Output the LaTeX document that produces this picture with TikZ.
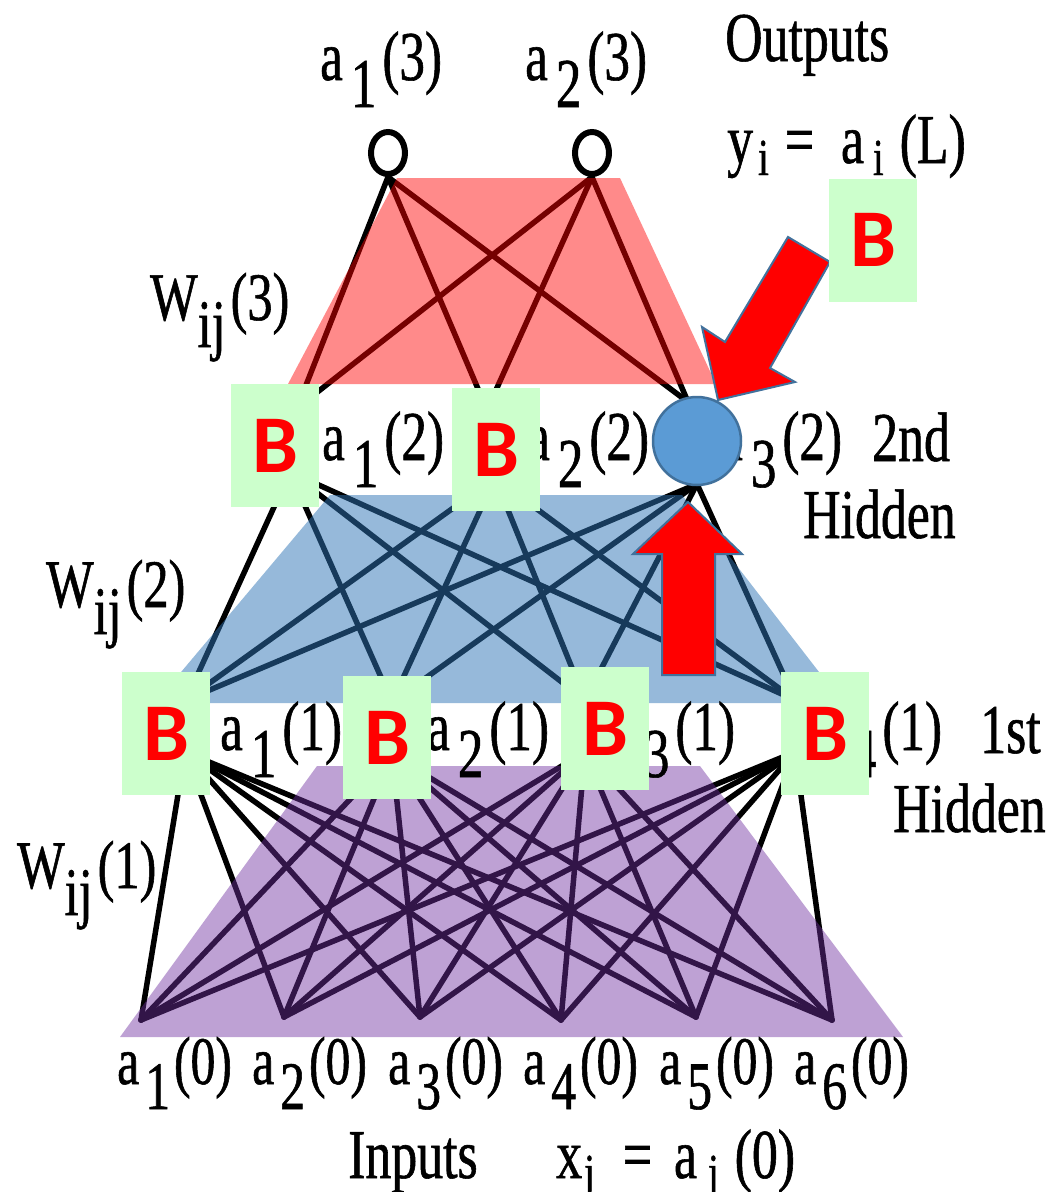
\documentclass[tikz,border=0pt]{standalone}
\usepackage{fontspec}
\newfontfamily\tmsA[FakeStretch=0.73,FakeBold=0.8]{Liberation Serif}
\newfontfamily\tmsB[FakeStretch=0.74,FakeBold=0.8]{Liberation Serif}
\newfontfamily\calb{Carlito}
\usetikzlibrary{shapes.geometric}
\definecolor{bgreen}{HTML}{CCFFCC}
\definecolor{cfill}{HTML}{5B9BD5}
\definecolor{cdraw}{HTML}{41719C}
\definecolor{ovblue}{HTML}{2E75B6}
\definecolor{ovpurple}{HTML}{7030A0}
\newcommand{\nlab}[2]{a\kern8pt\raisebox{-27pt}{#1}\kern6pt(#2)}
\newcommand{\ilab}[1]{a\kern6pt\raisebox{-25pt}{#1}\kern4pt(0)}
\newcommand{\wlab}[1]{W\raisebox{-27pt}{ij}\kern5pt(#1)}
\newcommand{\subsm}[1]{\raisebox{-12pt}{\fontsize{52}{52}\selectfont #1}}
\begin{document}
\begin{tikzpicture}[x=1pt,y=-1pt,
  conn/.style={line width=5.5pt,line cap=round},
  nl/.style={anchor=base west,inner sep=0pt,font=\tmsA\fontsize{70}{76}\selectfont},
  il/.style={anchor=base west,inner sep=0pt,font=\tmsA\fontsize{68}{72}\selectfont},
  tl/.style={anchor=base west,inner sep=0pt,font=\tmsB\fontsize{70}{76}\selectfont},
  wl/.style={anchor=base west,inner sep=0pt,font=\tmsB\fontsize{68}{74}\selectfont},
  bbox/.style={fill=bgreen,minimum width=88pt,minimum height=123pt,inner sep=0pt,text=red,font=\calb\bfseries\fontsize{82}{82}\selectfont},
  outn/.style={draw,ellipse,line width=6pt,minimum width=34pt,minimum height=42pt,inner sep=0pt},
  arr/.style={fill=red,draw=cdraw,line width=2pt,line join=miter}]

\useasboundingbox (0,0) rectangle (1051,1192);
\fill[white] (0,0) rectangle (1051,1192);

% output neurons
\node[outn] (o1) at (388,153) {};
\node[outn] (o2) at (592,153) {};

% hidden / input neuron anchor points
\coordinate (t21) at (297,408);
\coordinate (t22) at (487,410);
\coordinate (t23) at (688,402);
\coordinate (b21) at (290,472);
\coordinate (b22) at (495,478);
\coordinate (b23) at (697,484);
\coordinate (t11) at (186,700);
\coordinate (t12) at (392,702);
\coordinate (t13) at (585,700);
\coordinate (t14) at (795,700);
\coordinate (b11) at (185,752);
\coordinate (b12) at (392,755);
\coordinate (b13) at (585,752);
\coordinate (b14) at (795,752);
\coordinate (i1) at (141,1020);
\coordinate (i2) at (284,1017);
\coordinate (i3) at (420,1017);
\coordinate (i4) at (561,1020);
\coordinate (i5) at (696,1017);
\coordinate (i6) at (832,1020);

% connections
\foreach \s in {o1,o2}
  \foreach \t in {t21,t22,t23}
    \draw[conn] (\s.south) -- (\t);
\foreach \s in {b21,b22,b23}
  \foreach \t in {t11,t12,t13,t14}
    \draw[conn] (\s) -- (\t);
\foreach \s in {b11,b12,b13,b14}
  \foreach \t in {i1,i2,i3,i4,i5,i6}
    \draw[conn] (\s) -- (\t);

% coloured overlays
\fill[red,fill opacity=0.46] (397,178) -- (620,178) -- (716,384) -- (288,384) -- cycle;
\fill[ovblue,fill opacity=0.50] (330,495) -- (682,495) -- (843,703) -- (155,703) -- cycle;
\fill[ovpurple,fill opacity=0.45] (317,766) -- (700,766) -- (903,1037) -- (120,1037) -- cycle;

% labels
\node[nl] (l31) at (320,80) {\nlab{1}{3}};
\node[nl] (l32) at (525,80) {\nlab{2}{3}};
\node[tl] (outs) at (725,61) {Outputs};
\node[tl] (yeq) at (727,163) {y\kern5pt\subsm{i}\kern16pt=\kern27pt a\kern9pt\subsm{i}\kern16pt(L)};
\node[wl] (w3) at (150,320) {\wlab{3}};
\node[wl] (w2) at (46,607) {\wlab{2}};
\node[wl] (w1) at (17,888) {\wlab{1}};
\node[nl] (l21) at (322,460) {\nlab{1}{2}};
\node[nl] (l22) at (527,460) {\nlab{2}{2}};
\node[nl] (l23) at (720,460) {\nlab{3}{2}};
\node[tl] (h2a) at (872,461) {2nd};
\node[tl] (h2b) at (803,538) {Hidden};
\node[nl] (l11) at (220,750) {\nlab{1}{1}};
\node[nl] (l12) at (427,750) {\nlab{2}{1}};
\node[nl] (l13) at (613,750) {\nlab{3}{1}};
\node[nl] (l14) at (820,750) {\nlab{4}{1}};
\node[tl] (h1a) at (980,753) {1st};
\node[tl] (h1b) at (893,832) {Hidden};
\node[il] (l01) at (117,1084) {\ilab{1}};
\node[il] (l02) at (252,1084) {\ilab{2}};
\node[il] (l03) at (388,1084) {\ilab{3}};
\node[il] (l04) at (523,1084) {\ilab{4}};
\node[il] (l05) at (659,1084) {\ilab{5}};
\node[il] (l06) at (794,1084) {\ilab{6}};
\node[tl] (inps) at (348,1178) {Inputs};
\node[tl] (xeq) at (556,1178) {x\kern2pt\subsm{j}\kern28pt=\kern22pt a\kern11pt\subsm{j}\kern16pt(0)};

% arrows
\draw[arr] (788,237) -- (830,262) -- (770,368) -- (795,382) -- (718,400) -- (702,327) -- (725,342) -- cycle;
\draw[arr] (662,675) -- (662,554) -- (633,554) -- (688,502) -- (742,554) -- (715,554) -- (715,675) -- cycle;

% highlighted neuron
\node[circle,fill=cfill,draw=cdraw,line width=2.5pt,minimum size=88pt,inner sep=0pt] (hl) at (697,441) {};

% bias boxes
\node[bbox] (B1) at (275,445.5) {B};
\node[bbox] (B2) at (496,449.5) {B};
\node[bbox] (B3) at (873,240) {B};
\node[bbox] (B4) at (166,733.5) {B};
\node[bbox] (B5) at (387,737.5) {B};
\node[bbox] (B6) at (605,728.5) {B};
\node[bbox] (B7) at (825,733.5) {B};
\end{tikzpicture}
\end{document}
